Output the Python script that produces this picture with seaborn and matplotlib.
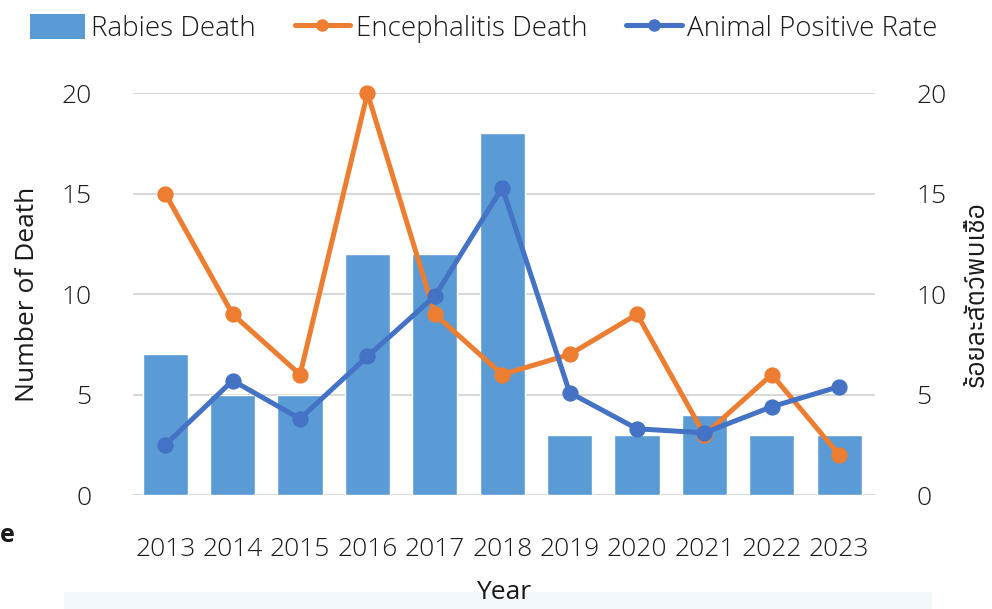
import matplotlib
matplotlib.use("Agg")
import matplotlib.pyplot as plt
from matplotlib.patches import Patch, Rectangle
from matplotlib.lines import Line2D
import pandas as pd
import seaborn as sns

years = ["2013", "2014", "2015", "2016", "2017", "2018", "2019", "2020", "2021", "2022", "2023"]
rabies_death = [7, 5, 5, 12, 12, 18, 3, 3, 4, 3, 3]
encephalitis_death = [15, 9, 6, 20, 9, 6, 7, 9, 3, 6, 2]
animal_positive_rate = [2.5, 5.7, 3.8, 6.9, 9.9, 15.3, 5.1, 3.3, 3.1, 4.4, 5.4]

BAR = "#5B9BD5"
ORANGE = "#ED7D31"
BLUE = "#4472C4"
GRID = "#D9D9D9"
TXT = "#1a1a1a"
FS = 19

sns.set_style("white")
plt.rcParams["font.family"] = ["Open Sans", "Anuphan", "DejaVu Sans"]
plt.rcParams["font.weight"] = "light"

df = pd.DataFrame({"year": years, "rabies": rabies_death,
                   "enceph": encephalitis_death, "rate": animal_positive_rate})

fig = plt.figure(figsize=(9.92, 6.09), dpi=100)
ax = fig.add_axes([0.134, 0.187, 0.748, 0.66])
ax2 = ax.twinx()

sns.barplot(data=df, x="year", y="rabies", color=BAR, width=0.67,
            saturation=1, ax=ax, zorder=2)
sns.pointplot(data=df, x="year", y="enceph", color=ORANGE, markers="o",
              linestyles="-", linewidth=3.6, markersize=9, ax=ax)
sns.pointplot(data=df, x="year", y="rate", color=BLUE, markers="o",
              linestyles="-", linewidth=3.6, markersize=9, ax=ax2)

for a in (ax, ax2):
    a.set_ylim(0, 20)
    a.set_xlim(-0.48, 10.53)
    a.set_yticks([0, 5, 10, 15, 20])
    for s in a.spines.values():
        s.set_visible(False)
    for c in a.collections + a.lines:
        c.set_clip_on(False)

ax.yaxis.grid(True, color=GRID, linewidth=1.5, zorder=0)
ax.set_axisbelow(True)
ax.axhline(0, color=GRID, linewidth=2, zorder=1)

ax.tick_params(axis="both", length=0, labelsize=FS, colors=TXT)
ax.tick_params(axis="y", pad=30)
ax.tick_params(axis="x", pad=30)
ax2.tick_params(axis="y", length=0, labelsize=FS, colors=TXT, pad=30)

ax.set_xlabel("Year", fontsize=FS, color=TXT)
ax.xaxis.set_label_coords(0.5, -0.212)
ax.set_ylabel("Number of Death", fontsize=FS, color=TXT)
ax.yaxis.set_label_coords(-0.125, 0.5)
ax2.set_ylabel("ร้อยละสัตว์พบเชื้อ", fontsize=FS, color=TXT, rotation=90,
               family=["Anuphan", "DejaVu Sans"])
ax2.yaxis.set_label_coords(1.12, 0.5)

handles = [
    Patch(facecolor=BAR, edgecolor="none"),
    Line2D([], [], color=ORANGE, lw=3.6, marker="o", markersize=8),
    Line2D([], [], color=BLUE, lw=3.6, marker="o", markersize=8),
]
fig.legend(handles, ["Rabies Death", "Encephalitis Death", "Animal Positive Rate"],
           loc="upper left", bbox_to_anchor=(16 / 992, 1.0), ncol=3,
           frameon=False, borderpad=0, fontsize=20, handlelength=2.0,
           handleheight=1.0, handletextpad=0.2, columnspacing=1.4,
           labelcolor=TXT)

# stray fragments visible in the original screenshot
fig.text(0.0, 0.12, "e", fontsize=18, fontweight="bold", color=TXT, va="center")
fig.patches.append(Rectangle((0.065, 0.0), 0.875, 0.028, transform=fig.transFigure,
                             facecolor="#F3F8FC", edgecolor="none", zorder=-5))

fig.savefig("out.png", dpi=100)
